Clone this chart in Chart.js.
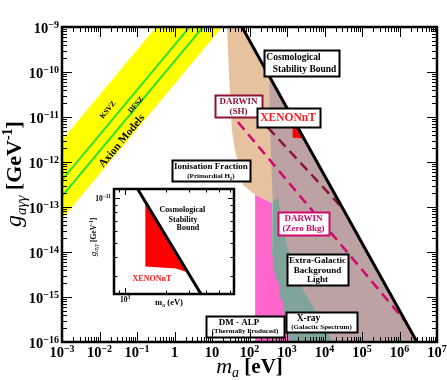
<!DOCTYPE html>
<html><head><meta charset="utf-8"><title>Axion-photon coupling limits</title>
<script src="https://cdn.jsdelivr.net/npm/chart.js@4.4.1/dist/chart.umd.min.js"></script>
<style>
html,body{margin:0;padding:0;background:#fff;overflow:hidden}
#wrap{position:relative;width:447px;height:380px}
canvas{position:absolute;display:block}
#main{left:0;top:0}
#inset{left:84px;top:184px}
</style></head><body>
<div id="wrap"><canvas id="main" width="447" height="380"></canvas><canvas id="inset" width="156" height="126"></canvas></div>
<script>
// ================= DATA =================
const xTickValues = [1e-3,1e-2,1e-1,1,10,1e2,1e3,1e4,1e5,1e6,1e7];
const xTickLabels = ['10^-3','10^-2','10^-1','1','10','10^2','10^3','10^4','10^5','10^6','10^7'];
const yTickValues = [1e-16,1e-15,1e-14,1e-13,1e-12,1e-11,1e-10,1e-9];
const yTickLabels = ['10^-16','10^-15','10^-14','10^-13','10^-12','10^-11','10^-10','10^-9'];

const axionBandMass = [1e-4, 1, 30, 1e-4];
const axionBandG    = [3.1e-13, 3.1e-9, 1.6e-9, 5.4e-15];
const ksvzMass = [1e-4, 10];
const ksvzG    = [3.98e-14, 3.98e-9];
const dfszMass = [1e-4, 10];
const dfszG    = [1.74e-14, 1.74e-9];

const stabilityMass = [50.1, 3.98e6];
const stabilityG    = [1.41e-9, 6.31e-17];

const ionisationMass = [25.1, 63.1, 338.8, 398, 446.7, 407.4, 141.3, 67.6, 40.7, 33.9, 28.2];
const ionisationG    = [1e-9, 1e-9, 8.04e-11, 5.01e-12, 1.12e-13, 1.23e-13, 1.86e-13, 3.09e-13, 1.86e-12, 5.13e-12, 1.10e-10];

const ebgMass = [338.8, 354.8, 416.9, 416.9, 3.98e6];
const ebgG    = [8.04e-11, 5.13e-12, 1.26e-13, 6.31e-17, 6.31e-17];

const xrayMass = [407.4, 575.4, 781.6, 1358, 2673, 6310, 14030, 16870, 17780, 389];
const xrayG    = [1.23e-13, 1.74e-13, 3.08e-14, 5.70e-15, 1.43e-15, 4.41e-16, 1.29e-16, 8.51e-17, 6.31e-17, 6.31e-17];

const dmAlpMass = [141.3, 398.1, 398.1, 446.7, 446.7, 537, 631, 631, 741, 891, 1000, 1000, 1202, 1259, 141.3];
const dmAlpG    = [1.86e-13, 1.23e-13, 7.94e-15, 7.94e-15, 3.98e-15, 2.40e-15, 1.78e-15, 1e-15, 8.91e-16, 3.55e-16, 2.82e-16, 1.58e-16, 1e-16, 6.31e-17, 6.31e-17];

const xenonMass = [1413, 1413, 2382, 2931];
const xenonG    = [9.44e-12, 3.47e-12, 3.37e-12, 3.16e-12];

const darwinShMass = [158.5, 30900];
const darwinShG    = [1.064e-11, 9.23e-14];
const darwinZeroMass = [49.0, 1.479e6];
const darwinZeroG    = [7.76e-12, 2.786e-16];

// inset axes
const insetXTickValues = [1000];
const insetXTickLabels = ['10^3'];
const insetYTickValues = [1e-11];
const insetYTickLabels = ['10^-11'];

// ================= STYLE / LAYOUT =================
const FAM = '"Liberation Serif","Times New Roman",serif';
const F = (st, s) => st + ' ' + s + 'px ' + FAM;
const C_SH = '#8b1438', C_ZB = '#d1086e', C_RED = '#ff1a1a';

const mainBoxes = [
  {m:2438, g:1.585e-10, w:75, h:26, lines:[
    {dx:-8, dy:-3, p:[{t:'Cosmological', s:9.5}]},
    {dx:3, dy:9, p:[{t:'Stability Bound', s:9.5}]}]},
  {m:50.9, g:1.754e-11, w:47, h:22, stroke:C_SH, color:C_SH, lines:[
    {dy:-2, p:[{t:'DARWIN', s:9}]},
    {dy:7.5, p:[{t:'(SH)', s:9}]}]},
  {m:1064, g:9.77e-12, w:63, h:19, color:C_RED, lines:[
    {dy:4, p:[{t:'XENONnT', s:11.5}]}]},
  {m:9.397, g:6.47e-13, w:78, h:21, lines:[
    {dy:-1.5, p:[{t:'Ionisation Fraction', s:9}]},
    {dy:7, p:[{t:'(Primordial H', s:7},{t:'2', s:5, dy:2},{t:')', s:7}]}]},
  {m:2754, g:4.295e-14, w:51, h:23, stroke:C_ZB, color:C_ZB, lines:[
    {dy:-2.5, p:[{t:'DARWIN', s:9}]},
    {dy:7.5, p:[{t:'(Zero Bkg)', s:9}]}]},
  {m:6501, g:4.083e-15, w:61, h:31, lines:[
    {dy:-6.5, p:[{t:'Extra-Galactic', s:9}]},
    {dy:3, p:[{t:'Background', s:9}]},
    {dy:12.5, p:[{t:'Light', s:9}]}]},
  {m:8318, g:2.78e-16, w:71, h:20, lines:[
    {dx:-13, dy:-1.5, p:[{t:'X-ray', s:9.5}]},
    {dy:6.5, p:[{t:'(Galactic Spectrum)', s:7}]}]},
  {m:75.86, g:2.208e-16, w:78, h:21, lines:[
    {dx:-6, dy:-1.5, p:[{t:'DM - ALP', s:9}]},
    {dy:6.5, p:[{t:'(Thermally Produced)', s:7}]}]},
];
const bandLabels = [
  {t:'KSVZ', m:0.01687, g:1.432e-11, s:7.5},
  {t:'DFSZ', m:0.09397, g:1.849e-11, s:7.5},
  {t:'Axion Models', m:0.0398, g:2.931e-12, s:11},
];
const insetTexts = [
  {t:'Cosmological', m:2661, g:8.30e-12, s:8},
  {t:'Stability', m:2685, g:7.11e-12, s:8},
  {t:'Bound', m:2924, g:6.28e-12, s:8},
  {t:'XENONnT', m:1581, g:2.86e-12, s:8, c:C_RED},
];

// ================= HELPERS =================
const pts = (ms, gs) => ms.map((m, i) => ({x:m, y:gs[i]}));
function poly(label, ms, gs, color, order){
  return {label, data:pts(ms, gs), fill:'shape', backgroundColor:color, borderColor:'rgba(0,0,0,0)',
          borderWidth:1, pointRadius:0, pointHoverRadius:0, order, tension:0};
}
function curve(label, ms, gs, color, width, dash, order){
  return {label, data:pts(ms, gs), fill:false, borderColor:color, backgroundColor:color, borderWidth:width,
          borderDash:dash || [], borderCapStyle:'butt', pointRadius:0, pointHoverRadius:0, order, tension:0};
}
function drawRich(ctx, x, y, parts, align){
  let total = 0;
  for (const p of parts){ ctx.font = p.f; p.w = ctx.measureText(p.t).width; total += p.w; }
  let cx = align === 'center' ? x - total/2 : (align === 'right' ? x - total : x);
  ctx.textAlign = 'left'; ctx.textBaseline = 'alphabetic';
  for (const p of parts){ ctx.font = p.f; ctx.fillStyle = p.c || '#000'; ctx.fillText(p.t, cx, y + (p.dy || 0)); cx += p.w; }
}
function powParts(lbl, big, small, raise){
  const sp = lbl.split('^');
  const parts = [{t:sp[0], f:F('bold', big)}];
  if (sp.length > 1) parts.push({t:sp[1].replace('-', '\u2212'), f:F('bold', small), dy:-raise});
  return parts;
}
function minorTicks(lo, hi){
  const out = [];
  for (let d = Math.floor(Math.log10(lo)) - 1; d <= Math.ceil(Math.log10(hi)); d++)
    for (let k = 2; k <= 9; k++){ const v = k * Math.pow(10, d); if (v > lo * 1.0001 && v < hi * 0.9999) out.push(v); }
  return out;
}
function drawTicks(ctx, chart, xMaj, yMaj, majL, minL){
  const a = chart.chartArea, xs = chart.scales.x, ys = chart.scales.y;
  ctx.save(); ctx.strokeStyle = '#000'; ctx.lineWidth = 1; ctx.beginPath();
  const xT = xMaj.map(v => [v, majL]).concat(minorTicks(xs.min, xs.max).map(v => [v, minL]));
  const yT = yMaj.map(v => [v, majL]).concat(minorTicks(ys.min, ys.max).map(v => [v, minL]));
  for (const [v, L] of xT){
    const p = Math.round(xs.getPixelForValue(v)) + 0.5;
    ctx.moveTo(p, a.bottom); ctx.lineTo(p, a.bottom - L);
    ctx.moveTo(p, a.top); ctx.lineTo(p, a.top + L);
  }
  for (const [v, L] of yT){
    const p = Math.round(ys.getPixelForValue(v)) + 0.5;
    ctx.moveTo(a.left, p); ctx.lineTo(a.left + L, p);
    ctx.moveTo(a.right, p); ctx.lineTo(a.right - L, p);
  }
  ctx.stroke(); ctx.restore();
}
function drawFrame(ctx, chart, w){
  const a = chart.chartArea;
  ctx.save(); ctx.strokeStyle = '#000'; ctx.lineWidth = w;
  ctx.strokeRect(a.left, a.top, a.right - a.left, a.bottom - a.top); ctx.restore();
}

// ================= MAIN CHART =================
const mainDecor = {
  id:'mainDecor',
  afterDatasetsDraw(chart){
    const ctx = chart.ctx, xs = chart.scales.x, ys = chart.scales.y, a = chart.chartArea;
    ctx.save();
    ctx.beginPath(); ctx.rect(a.left, a.top, a.right - a.left, a.bottom - a.top); ctx.clip();
    const x0 = xs.getPixelForValue(ksvzMass[0]), y0 = ys.getPixelForValue(ksvzG[0]);
    const x1 = xs.getPixelForValue(ksvzMass[1]), y1 = ys.getPixelForValue(ksvzG[1]);
    const ang = Math.atan2(y1 - y0, x1 - x0);
    for (const L of bandLabels){
      ctx.save();
      ctx.translate(xs.getPixelForValue(L.m), ys.getPixelForValue(L.g));
      ctx.rotate(ang);
      ctx.font = F('bold', L.s); ctx.fillStyle = '#000'; ctx.textAlign = 'center'; ctx.textBaseline = 'middle';
      ctx.fillText(L.t, 0, 0);
      ctx.restore();
    }
    for (const b of mainBoxes){
      const cx = xs.getPixelForValue(b.m), cy = ys.getPixelForValue(b.g);
      const l = Math.round(cx - b.w/2) + 0.5, t = Math.round(cy - b.h/2) + 0.5;
      ctx.fillStyle = '#fff'; ctx.fillRect(l, t, b.w, b.h);
      ctx.strokeStyle = b.stroke || '#000'; ctx.lineWidth = 2; ctx.strokeRect(l, t, b.w, b.h);
      for (const ln of b.lines){
        const parts = ln.p.map(q => ({t:q.t, f:F('bold', q.s), dy:q.dy || 0, c:b.color || '#000'}));
        drawRich(ctx, cx + (ln.dx || 0), cy + ln.dy, parts, 'center');
      }
    }
    ctx.restore();
  },
  afterDraw(chart){
    const ctx = chart.ctx, xs = chart.scales.x, ys = chart.scales.y, a = chart.chartArea;
    drawTicks(ctx, chart, xTickValues, yTickValues, 10, 5);
    drawFrame(ctx, chart, 2.5);
    xTickValues.forEach((v, i) => drawRich(ctx, xs.getPixelForValue(v), a.bottom + 15, powParts(xTickLabels[i], 14.5, 10, 5), 'center'));
    yTickValues.forEach((v, i) => drawRich(ctx, a.left - 3, ys.getPixelForValue(v) + 5.5, powParts(yTickLabels[i], 14.5, 10, 5), 'right'));
    // x title
    drawRich(ctx, (a.left + a.right)/2, a.bottom + 31, [
      {t:'m', f:F('italic', 22)}, {t:'a', f:F('italic', 14), dy:4}, {t:' [eV]', f:F('bold', 21)}], 'center');
    // y title
    ctx.save(); ctx.translate(21, 174); ctx.rotate(-Math.PI/2);
    drawRich(ctx, 0, 0, [
      {t:'g', f:F('italic', 24)}, {t:'a\u03b3\u03b3', f:F('italic', 15), dy:5},
      {t:' [GeV', f:F('bold', 22)}, {t:'-1', f:F('bold', 14), dy:-9}, {t:']', f:F('bold', 22)}], 'center');
    ctx.restore();
  }
};

new Chart(document.getElementById('main'), {
  type:'line',
  data:{datasets:[
    poly('Ionisation fraction (primordial H2)', ionisationMass, ionisationG, '#e6c39e', 30),
    poly('Extra-galactic background light', ebgMass, ebgG, '#bca2a2', 29),
    poly('X-ray (galactic spectrum)', xrayMass, xrayG, '#80a49b', 28),
    poly('DM-ALP (thermally produced)', dmAlpMass, dmAlpG, '#ff66cc', 27),
    poly('Axion models', axionBandMass, axionBandG, '#ffff00', 26),
    curve('KSVZ', ksvzMass, ksvzG, '#2ee22e', 2, null, 25),
    curve('DFSZ', dfszMass, dfszG, '#2ee22e', 2, null, 24),
    poly('XENONnT', xenonMass, xenonG, '#ff0000', 23),
    curve('DARWIN (Zero Bkg)', darwinZeroMass, darwinZeroG, C_ZB, 2.5, [10, 6], 22),
    curve('DARWIN (SH)', darwinShMass, darwinShG, C_SH, 2.5, [10, 6], 21),
    curve('Cosmological stability bound', stabilityMass, stabilityG, '#000', 3, null, 20),
  ]},
  options:{
    responsive:false, animation:false, devicePixelRatio:1, events:[],
    layout:{padding:{left:62, top:27, right:10, bottom:38}},
    plugins:{legend:{display:false}, tooltip:{enabled:false}},
    scales:{
      x:{type:'logarithmic', min:1e-3, max:1e7, display:false},
      y:{type:'logarithmic', min:1e-16, max:1e-9, display:false}
    }
  },
  plugins:[mainDecor]
});

// ================= INSET CHART =================
const insetDecor = {
  id:'insetDecor',
  beforeDraw(chart){
    const ctx = chart.ctx, a = chart.chartArea;
    ctx.save(); ctx.fillStyle = '#fff'; ctx.fillRect(a.left, a.top, a.right - a.left, a.bottom - a.top); ctx.restore();
  },
  afterDatasetsDraw(chart){
    const ctx = chart.ctx, xs = chart.scales.x, ys = chart.scales.y;
    for (const T of insetTexts){
      ctx.font = F('bold', T.s); ctx.fillStyle = T.c || '#000'; ctx.textAlign = 'center'; ctx.textBaseline = 'middle';
      ctx.fillText(T.t, xs.getPixelForValue(T.m), ys.getPixelForValue(T.g));
    }
  },
  afterDraw(chart){
    const ctx = chart.ctx, xs = chart.scales.x, ys = chart.scales.y, a = chart.chartArea;
    drawTicks(ctx, chart, insetXTickValues, insetYTickValues, 6, 3.5);
    drawFrame(ctx, chart, 2.5);
    insetXTickValues.forEach((v, i) => drawRich(ctx, xs.getPixelForValue(v), a.bottom + 8, powParts(insetXTickLabels[i], 7.5, 5.5, 3), 'center'));
    insetYTickValues.forEach((v, i) => drawRich(ctx, a.left - 3, ys.getPixelForValue(v) + 3, powParts(insetYTickLabels[i], 7.5, 5.5, 3), 'right'));
    drawRich(ctx, (a.left + a.right)/2 - 5, a.bottom + 11, [
      {t:'m', f:F('bold', 8.5)}, {t:'a', f:F('italic', 6), dy:2}, {t:' (eV)', f:F('bold', 8.5)}], 'center');
    ctx.save(); ctx.translate(12, 53); ctx.rotate(-Math.PI/2);
    drawRich(ctx, 0, 0, [
      {t:'g', f:F('italic', 9)}, {t:'a\u03b3\u03b3', f:F('italic', 6), dy:2},
      {t:' [GeV', f:F('bold', 7.5)}, {t:'-1', f:F('bold', 5.5), dy:-3}, {t:']', f:F('bold', 7.5)}], 'center');
    ctx.restore();
  }
};

new Chart(document.getElementById('inset'), {
  type:'line',
  data:{datasets:[
    poly('XENONnT', xenonMass, xenonG, '#ff0000', 2),
    curve('Cosmological stability bound', stabilityMass, stabilityG, '#000', 3, null, 1),
  ]},
  options:{
    responsive:false, animation:false, devicePixelRatio:1, events:[],
    layout:{padding:{left:30, top:5, right:6, bottom:16}},
    plugins:{legend:{display:false}, tooltip:{enabled:false}},
    scales:{
      x:{type:'logarithmic', min:828, max:6412, display:false},
      y:{type:'logarithmic', min:2.27e-12, max:1.148e-11, display:false}
    }
  },
  plugins:[insetDecor]
});
</script>
</body></html>
